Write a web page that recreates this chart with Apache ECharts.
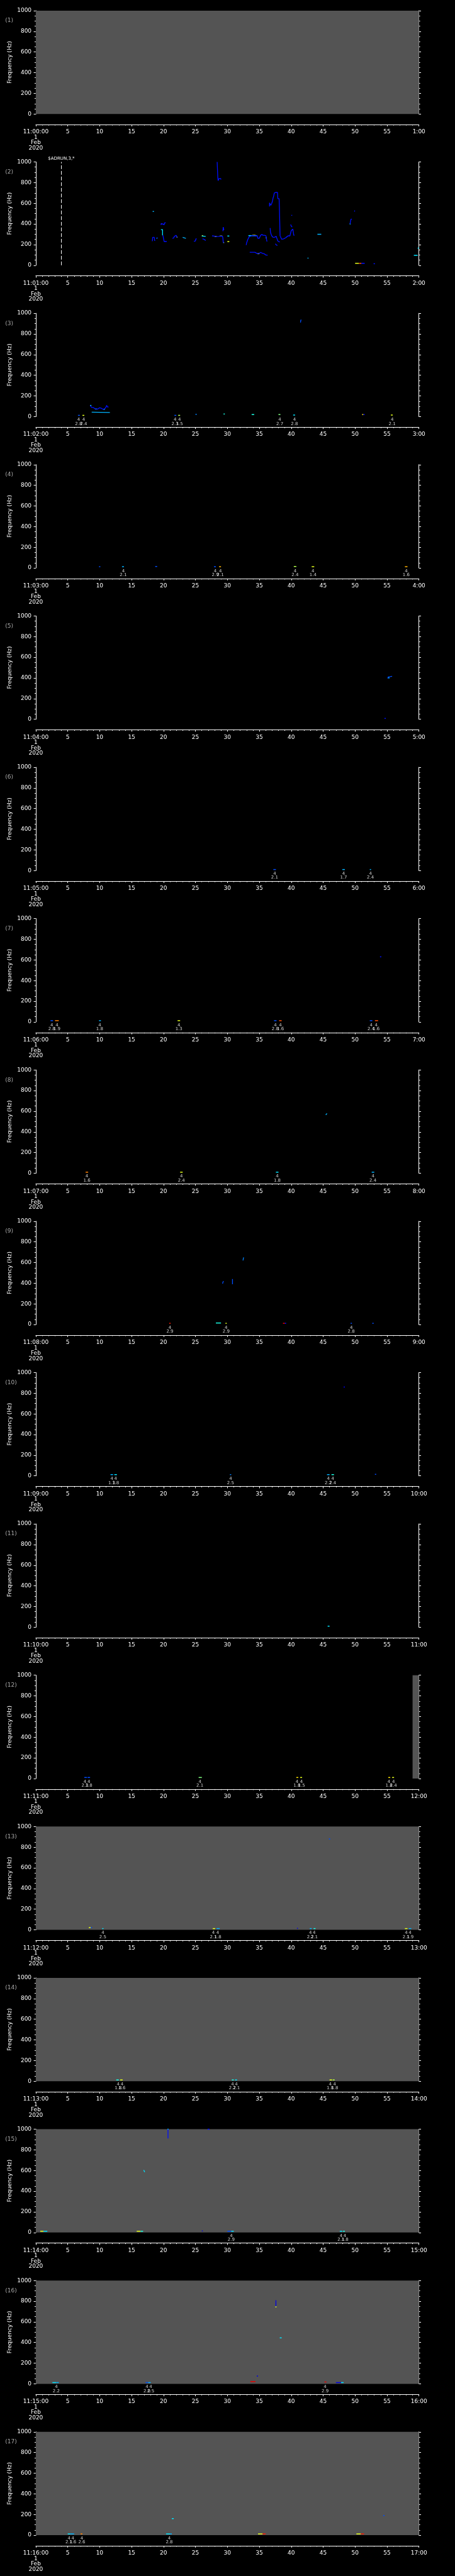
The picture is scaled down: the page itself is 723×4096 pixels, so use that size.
<!DOCTYPE html>
<html>
<head>
<meta charset="utf-8">
<script src="https://cdn.jsdelivr.net/npm/echarts@6/dist/echarts.min.js"></script>
<style>
  html, body { margin: 0; background: #000; }
  #chart { width: 723px; height: 4096px; }
</style>
</head>
<body>
<div id="chart"></div>
<script>
// scale from the 1024 px original
const S = 0.705;

// frequency axis ticks (Hz) and time axis ticks (minutes)
const freqTicks = [0, 200, 400, 600, 800, 1000];
const minuteTicks = [0, 5, 10, 15, 20, 25, 30, 35, 40, 45, 50, 55, 60];

// grey = no data, [fromMinute, toMinute] per panel
const greySpans = [
  [[0, 60]], [], [], [], [], [], [], [], [], [], [], [[59, 60]],
  [[0, 60]], [[0, 60]], [[0, 60]], [[0, 60]], [[0, 60]]
];

// event labels under the plot: [minute, top, magnitude]
const events = [
  [],
  [],
  [[6.7, 4, 2.8], [7.5, 4, 2.4], [21.8, 4, 2.3], [22.5, 4, 1.5], [38.2, 4, 2.7], [40.5, 4, 2.8], [55.8, 4, 2.1]],
  [[13.7, 4, 2.1], [28.1, 4, 2.9], [28.9, 4, 2.1], [40.6, 4, 2.4], [43.4, 4, 1.4], [58.0, 4, 1.6]],
  [],
  [[37.4, 4, 2.1], [48.2, 4, 1.7], [52.4, 4, 2.4]],
  [[2.5, 4, 2.8], [3.3, 4, 1.9], [10.0, 4, 1.8], [22.4, 4, 1.3], [37.5, 4, 2.8], [38.3, 4, 1.6], [52.5, 4, 2.4], [53.3, 4, 1.6]],
  [[8.0, 4, 1.6], [22.8, 4, 2.4], [37.8, 4, 1.8], [52.8, 4, 2.4]],
  [[21.0, 4, 2.9], [29.8, 4, 2.9], [49.4, 4, 2.8]],
  [[11.9, 4, 1.3], [12.5, 4, 1.8], [30.5, 4, 2.5], [45.8, 4, 2.2], [46.5, 4, 2.4]],
  [],
  [[7.7, 4, 2.3], [8.3, 4, 1.8], [25.7, 4, 2.1], [40.9, 4, 1.8], [41.6, 4, 1.5], [55.3, 4, 1.8], [56.0, 4, 2.4]],
  [[10.5, 4, 2.5], [27.8, 4, 2.1], [28.5, 4, 1.8], [43.0, 4, 2.2], [43.6, 4, 2.1], [58.0, 4, 2.1], [58.6, 4, 1.9]],
  [[12.9, 4, 1.8], [13.5, 4, 1.6], [30.8, 4, 2.2], [31.4, 4, 2.1], [46.1, 4, 1.8], [46.8, 4, 1.8]],
  [[30.6, 4, 2.9], [47.8, 4, 2.1], [48.4, 4, 1.8]],
  [[3.2, 4, 2.2], [17.4, 4, 2.0], [18.0, 4, 2.5], [45.3, 4, 2.9]],
  [[5.2, 4, 2.1], [5.8, 4, 1.6], [7.2, 4, 2.6], [20.9, 4, 2.8]]
];

// short horizontal bits: [fromMinute, toMinute, Hz, level 0..1]
const segments = [
  [],
  [[18.3, 18.5, 521, 0.3], [19.6, 19.72, 400, 0.8], [22.05, 22.2, 272, 0.6], [26.0, 26.2, 286, 0.6],
   [28.0, 28.3, 280, 0.6], [28.8, 29.2, 283, 0.6], [29.35, 29.5, 220, 0.55], [30.0, 30.3, 283, 0.35],
   [30.0, 30.3, 229, 0.6], [33.3, 34.6, 287, 0.35], [33.9, 34.4, 290, 0.6], [36.0, 36.1, 265, 0.5],
   [34.7, 35.0, 112, 0.6], [42.55, 42.7, 69, 0.3], [44.1, 44.7, 300, 0.3], [50.0, 50.6, 19, 0.6],
   [50.6, 51.0, 19, 0.8], [51.0, 51.5, 19, 0.14], [52.9, 53.1, 15, 0.14], [59.2, 59.8, 96, 0.35],
   [59.8, 60.0, 166, 0.35], [49.15, 49.3, 400, 0.35]],
  [[6.6, 6.9, 12, 0.2], [7.3, 7.6, 12, 0.6], [21.7, 22.0, 12, 0.2], [22.3, 22.6, 12, 0.55],
   [25.0, 25.2, 22, 0.25], [29.4, 29.6, 25, 0.4], [33.8, 34.2, 20, 0.4], [38.0, 38.3, 20, 0.5],
   [40.3, 40.6, 15, 0.35], [51.1, 51.3, 20, 0.65], [51.3, 51.5, 20, 0.14], [55.6, 55.9, 15, 0.6],
   [8.5, 8.7, 108, 0.4], [9.3, 9.6, 73, 0.4], [10.6, 10.8, 70, 0.4]],
  [[9.9, 10.1, 12, 0.2], [13.5, 13.8, 12, 0.3], [18.7, 19.0, 14, 0.2], [27.9, 28.2, 12, 0.2],
   [28.7, 29.0, 12, 0.7], [40.4, 40.8, 14, 0.55], [43.2, 43.6, 12, 0.6], [57.8, 58.2, 12, 0.7]],
  [[54.6, 54.8, 8, 0.14], [55.2, 55.4, 400, 0.3]],
  [[37.2, 37.6, 10, 0.2], [48.0, 48.4, 10, 0.3], [52.3, 52.5, 10, 0.3]],
  [[2.3, 2.7, 12, 0.2], [3.0, 3.6, 12, 0.75], [9.9, 10.2, 12, 0.3], [22.2, 22.6, 12, 0.6],
   [37.3, 37.7, 12, 0.2], [38.1, 38.5, 12, 0.8], [52.3, 52.7, 12, 0.2], [53.1, 53.6, 12, 0.8],
   [53.9, 54.1, 630, 0.14]],
  [[7.8, 8.2, 10, 0.75], [22.6, 23.0, 10, 0.6], [37.6, 38.0, 10, 0.35], [52.6, 53.0, 10, 0.3]],
  [[20.9, 21.1, 12, 0.85], [28.2, 29.0, 15, 0.4], [29.7, 29.9, 12, 0.6], [38.7, 39.0, 12, 0.9],
   [39.0, 39.2, 12, 0.14], [49.3, 49.5, 12, 0.2], [52.7, 52.9, 12, 0.2]],
  [[11.7, 12.1, 12, 0.3], [12.3, 12.7, 12, 0.35], [30.4, 30.6, 12, 0.25], [45.6, 46.0, 12, 0.3],
   [46.3, 46.7, 12, 0.4], [53.1, 53.3, 15, 0.2], [48.2, 48.4, 860, 0.1]],
  [[45.7, 46.0, 10, 0.35]],
  [[7.6, 8.0, 10, 0.2], [8.1, 8.5, 10, 0.2], [25.5, 26.0, 10, 0.5], [40.8, 41.1, 10, 0.65],
   [41.4, 41.7, 10, 0.6], [55.2, 55.5, 10, 0.65], [55.8, 56.1, 10, 0.6]],
  [[8.3, 8.6, 22, 0.6], [8.6, 8.8, 22, 0.2], [10.4, 10.6, 12, 0.35], [27.7, 28.1, 12, 0.6],
   [28.3, 28.8, 12, 0.3], [40.9, 41.0, 15, 0.1], [42.9, 43.2, 12, 0.3], [43.5, 43.8, 12, 0.4],
   [57.8, 58.2, 12, 0.6], [58.4, 58.8, 12, 0.3], [45.9, 46.1, 880, 0.2]],
  [[12.6, 13.0, 12, 0.4], [13.2, 13.6, 12, 0.6], [30.7, 31.0, 12, 0.4], [31.2, 31.5, 12, 0.35],
   [46.0, 46.4, 12, 0.6], [46.5, 46.8, 12, 0.55]],
  [[0.7, 1.2, 12, 0.6], [1.2, 1.8, 12, 0.35], [15.8, 16.4, 12, 0.6], [16.4, 16.8, 12, 0.4],
   [26.0, 26.1, 15, 0.1], [30.0, 30.6, 12, 0.2], [30.6, 31.0, 12, 0.35], [47.6, 48.0, 12, 0.35],
   [48.1, 48.4, 12, 0.4], [20.6, 20.8, 1000, 0.35], [26.9, 27.2, 1000, 0.14]],
  [[2.6, 3.2, 12, 0.35], [3.2, 3.6, 12, 0.3], [17.2, 17.6, 12, 0.2], [17.6, 18.0, 12, 0.3],
   [33.6, 34.4, 22, 0.9], [34.6, 34.8, 75, 0.1], [45.2, 45.5, 18, 0.9], [47.0, 47.8, 12, 0.1],
   [47.8, 48.2, 12, 0.35], [38.2, 38.5, 445, 0.35], [37.5, 37.7, 745, 0.6]],
  [[5.0, 5.4, 12, 0.35], [5.4, 6.0, 12, 0.3], [7.0, 7.3, 12, 0.75], [20.4, 21.0, 12, 0.35],
   [21.0, 21.3, 12, 0.3], [34.8, 35.5, 12, 0.6], [35.5, 36.0, 12, 0.85], [50.2, 50.9, 12, 0.6],
   [50.9, 51.4, 12, 0.85], [21.3, 21.6, 160, 0.35], [54.4, 54.6, 190, 0.2]]
];

// ridge traces: [level, [[minute, Hz], ...]]
const traces = [
  [],
  [
    [0.14, [[18.25, 233], [18.3, 270], [18.55, 270], [18.6, 240], [18.7, 240]]],
    [0.2, [[18.85, 262], [19.1, 265]]],
    [0.14, [[19.6, 390], [19.65, 405], [19.85, 400], [19.9, 392], [20.1, 392], [20.15, 410], [20.35, 410]]],
    [0.35, [[19.6, 345], [19.85, 345], [19.85, 290]]],
    [0.14, [[19.9, 290], [20.05, 280], [20.1, 230], [20.5, 230]]],
    [0.14, [[21.4, 262], [21.6, 265], [21.7, 280], [21.85, 290], [22.0, 290], [22.05, 275], [22.15, 270]]],
    [0.3, [[23.0, 270], [23.3, 265], [23.5, 260]]],
    [0.14, [[24.75, 232], [25.0, 235], [25.05, 255], [25.2, 255]]],
    [0.35, [[26.0, 283], [26.6, 280]]],
    [0.14, [[26.1, 255], [26.35, 252], [26.45, 245], [26.6, 240]]],
    [0.14, [[27.6, 285], [27.9, 283], [28.3, 278], [28.7, 280], [29.0, 283], [29.25, 280], [29.3, 260], [29.35, 220], [29.45, 220]]],
    [0.14, [[29.3, 330], [29.35, 370], [29.45, 370], [29.45, 340]]],
    [0.14, [[28.4, 1000], [28.5, 1000], [28.5, 850], [28.55, 820], [28.65, 820], [28.7, 840], [28.95, 840], [29.0, 830]]],
    [0.14, [[32.95, 195], [33.0, 215], [33.1, 225], [33.2, 250], [33.4, 275], [33.5, 285], [33.9, 288], [34.4, 285], [34.7, 285],
            [34.75, 262], [35.0, 262], [35.1, 270], [35.2, 290], [35.4, 298], [35.6, 290], [35.8, 290], [35.9, 298],
            [36.05, 285], [36.1, 260], [36.2, 230], [36.25, 230]]],
    [0.14, [[33.5, 126], [34.3, 126], [34.4, 120], [34.7, 112], [35.0, 115], [35.2, 125], [35.35, 118], [35.5, 115],
            [35.8, 110], [36.0, 100], [36.3, 97]]],
    [0.14, [[36.6, 570], [36.6, 605], [36.75, 605], [36.8, 580], [36.9, 580], [36.95, 600], [37.05, 620], [37.15, 650],
            [37.25, 670], [37.35, 700], [37.45, 710], [37.55, 705], [37.85, 705], [37.9, 645], [38.1, 645], [38.15, 550],
            [38.2, 550], [38.25, 280]]],
    [0.14, [[36.7, 360], [36.75, 320], [36.85, 300], [36.9, 300], [36.95, 285], [37.1, 285], [37.15, 270], [37.4, 272],
            [37.45, 280], [37.65, 280], [37.75, 260], [37.9, 235], [38.0, 225], [38.2, 225]]],
    [0.14, [[37.5, 208], [37.65, 208], [37.7, 195], [37.85, 193]]],
    [0.14, [[38.3, 280], [38.4, 265], [38.5, 252], [38.8, 255], [39.1, 265], [39.3, 275], [39.5, 285], [39.8, 285],
            [39.85, 300], [40.0, 335], [40.1, 340], [40.25, 350], [40.35, 350], [40.4, 290], [40.5, 290]]],
    [0.14, [[39.9, 395], [40.0, 395], [40.05, 375], [40.15, 370]]],
    [0.14, [[40.0, 483], [40.15, 483]]],
    [0.14, [[49.2, 400], [49.3, 400], [49.35, 445], [49.5, 447], [49.55, 447]]],
    [0.14, [[49.9, 520], [49.95, 530], [50.0, 530]]]
  ],
  [
    [0.14, [[8.5, 108], [8.65, 108], [8.75, 88], [9.0, 88], [9.1, 80], [9.3, 75], [9.5, 73], [9.7, 73], [9.8, 80],
            [9.95, 85], [10.2, 83], [10.4, 75], [10.6, 70], [10.85, 80], [11.0, 93], [11.1, 110], [11.2, 93], [11.4, 93]]],
    [0.3, [[8.75, 43], [11.6, 40]]],
    [0.2, [[41.45, 910], [41.5, 935], [41.6, 935]]]
  ],
  [],
  [[0.2, [[55.1, 395], [55.2, 410], [55.5, 412], [55.8, 415]]]],
  [],
  [],
  [[0.3, [[45.4, 565], [45.5, 575], [45.6, 578]]]],
  [
    [0.2, [[29.25, 395], [29.3, 410], [29.4, 420]]],
    [0.2, [[30.8, 440], [30.8, 390], [30.85, 390]]],
    [0.25, [[32.45, 620], [32.5, 640], [32.55, 650]]]
  ],
  [], [], [], [], [],
  [
    [0.35, [[16.9, 605], [17.0, 600], [17.05, 585]]],
    [0.14, [[20.7, 1000], [20.7, 910]]]
  ],
  [[0.1, [[37.6, 810], [37.6, 750]]]],
  []
];

function jet(v) {
  const c = x => Math.round(255 * Math.max(0, Math.min(1, x)));
  return 'rgb(' + c(1.5 - Math.abs(4 * v - 3)) + ',' + c(1.5 - Math.abs(4 * v - 2)) + ',' + c(1.5 - Math.abs(4 * v - 1)) + ')';
}
function pad(n) { return n < 10 ? '0' + n : '' + n; }

const left = 80.7 * S;
const width = 863.6 * S;
const plotH = 233 * S;
const font = '"DejaVu Sans", sans-serif';
const white = '#ffffff';

const grid = [], xAxis = [], yAxis = [], series = [], graphic = [];

for (let i = 0; i < 17; i++) {
  const top = (24 + 341.3 * i) * S;
  const axisY = (281 + 341.3 * i) * S;
  const g = grid.length;
  // plot area
  grid.push({ left: left, width: width, top: top, height: plotH });
  // time axis under it
  grid.push({ left: left, width: width, top: axisY - 1, height: 1 });

  const xi = xAxis.length, yi = yAxis.length;
  xAxis.push({ gridIndex: g, type: 'value', min: 0, max: 60, show: false });
  xAxis.push({
    gridIndex: g + 1, type: 'value', min: minuteTicks[0], max: minuteTicks[minuteTicks.length - 1], interval: 5,
    axisLine: { lineStyle: { color: white, width: 1 } },
    axisTick: { length: 2.8, lineStyle: { color: white } },
    minorTick: { show: true, splitNumber: 5, length: 1.4, lineStyle: { color: white } },
    splitLine: { show: false },
    axisLabel: {
      color: white, fontSize: 9, fontFamily: font, lineHeight: 8.5, margin: 7.5,
      formatter: v => v === 0 ? '11:' + pad(i) + ':00\n1\nFeb\n2020' : (v === 60 ? (i + 1) + ':00' : String(v))
    }
  });
  const yCommon = {
    gridIndex: g, type: 'value', min: freqTicks[0], max: freqTicks[freqTicks.length - 1], interval: 200,
    axisLine: { show: true, lineStyle: { color: white, width: 1 } },
    axisTick: { show: true, length: 3.3, lineStyle: { color: white } },
    minorTick: { show: true, splitNumber: 4, length: 1.9, lineStyle: { color: white } },
    splitLine: { show: false }
  };
  yAxis.push(Object.assign({}, yCommon, {
    position: 'left',
    axisLabel: { color: white, fontSize: 9, fontFamily: font, margin: 6.8, formatter: v => String(v) }
  }));
  yAxis.push(Object.assign({}, yCommon, { position: 'right', axisLabel: { show: false } }));
  yAxis.push({ gridIndex: g + 1, type: 'value', show: false });

  // no-data background
  series.push({
    type: 'custom', xAxisIndex: xi, yAxisIndex: yi, z: 1, silent: true,
    data: greySpans[i].map(s => [s[0], s[1], 0, 1000]),
    encode: { x: [0, 1], y: [2, 3] },
    renderItem: (params, api) => {
      const a = api.coord([api.value(0), api.value(3)]);
      const b = api.coord([api.value(1), api.value(2)]);
      return { type: 'rect', shape: { x: a[0], y: a[1], width: b[0] - a[0], height: b[1] - a[1] }, style: { fill: '#545454' } };
    }
  });

  // short bits
  const seg = {
    type: 'custom', xAxisIndex: xi, yAxisIndex: yi, z: 3, silent: true,
    data: segments[i],
    encode: { x: [0, 1], y: 2 },
    renderItem: (params, api) => {
      const a = api.coord([api.value(0), api.value(2)]);
      const b = api.coord([api.value(1), api.value(2)]);
      return { type: 'line', shape: { x1: a[0], y1: a[1], x2: Math.max(b[0], a[0] + 1.5), y2: b[1] },
               style: { stroke: jet(api.value(3)), lineWidth: 1.5 } };
    }
  };
  if (i === 1) {
    seg.markLine = {
      silent: true, symbol: 'none',
      lineStyle: { color: white, type: [6, 3], width: 1 },
      label: { show: true, position: 'end', formatter: '$ADRUN,3,*', color: white, fontSize: 7, fontFamily: font, distance: 2 },
      data: [{ xAxis: 4 }]
    };
  }
  series.push(seg);

  traces[i].forEach(t => {
    series.push({
      type: 'line', xAxisIndex: xi, yAxisIndex: yi, z: 3, silent: true,
      showSymbol: false, symbol: 'none', animation: false,
      lineStyle: { color: jet(t[0]), width: 1.3 },
      data: t[1]
    });
  });

  if (events[i].length) {
    series.push({
      type: 'scatter', xAxisIndex: xi, yAxisIndex: yi, z: 4, silent: true,
      symbolSize: 0,
      data: events[i].map(e => [e[0], 0, e[1], e[2]]),
      label: {
        show: true, position: 'bottom', distance: 1.7,
        color: white, fontSize: 7, fontFamily: font, lineHeight: 6.4,
        formatter: p => p.data[2] + '\n' + p.data[3].toFixed(1)
      }
    });
  }

  graphic.push({
    type: 'text', x: 8.2, y: (46.7 + 341.3 * i) * S,
    style: { text: '(' + (i + 1) + ')', fill: '#a8a8a8', font: '9px ' + font, textAlign: 'left', textVerticalAlign: 'middle' }
  });
  graphic.push({
    type: 'text', x: 16, y: top + plotH / 2, rotation: Math.PI / 2,
    style: { text: 'Frequency (Hz)', fill: white, font: '9px ' + font, textAlign: 'center', textVerticalAlign: 'middle' }
  });
}

const chart = echarts.init(document.getElementById('chart'), null, { renderer: 'canvas' });
chart.setOption({
  backgroundColor: '#000000',
  animation: false,
  grid: grid,
  xAxis: xAxis,
  yAxis: yAxis,
  series: series,
  graphic: graphic
});
</script>
</body>
</html>
